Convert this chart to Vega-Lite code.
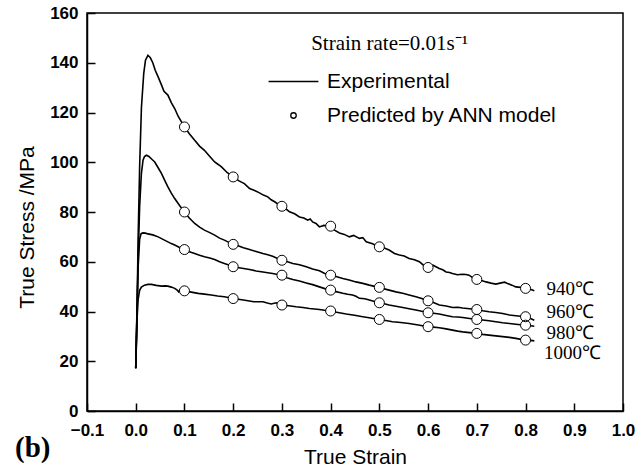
{
  "$schema": "https://vega.github.io/schema/vega-lite/v6.json",
  "width": 536,
  "height": 398,
  "autosize": {"type": "none"},
  "padding": {"left": 87, "top": 13, "right": 21, "bottom": 58},
  "background": "white",
  "title": {"text": "(b)", "orient": "bottom", "anchor": "start", "frame": "group", "font": "Liberation Serif", "fontSize": 29, "fontWeight": "bold", "color": "black", "dx": -72, "offset": -10, "baseline": "alphabetic"},
  "config": {
    "view": {"stroke": "black", "strokeWidth": 1.5},
    "axis": {
      "domainColor": "black", "domainWidth": 1.5, "tickColor": "black", "tickWidth": 1.5, "tickSize": -8,
      "grid": false, "labelFont": "Liberation Sans", "labelFontWeight": "bold", "labelFontSize": 17, "labelColor": "black",
      "titleFont": "Liberation Sans", "titleFontSize": 21, "titleFontWeight": "normal", "titleColor": "black",
      "labelFlush": false, "labelOverlap": false
    }
  },
  "datasets": {
    "exp": [
      {"t":"940","x":0,"y":17.2},{"t":"940","x":0.003,"y":45},{"t":"940","x":0.005,"y":70},{"t":"940","x":0.008,"y":98},{"t":"940","x":0.0117,"y":122},{"t":"940","x":0.0164,"y":135.6},{"t":"940","x":0.02,"y":141},{"t":"940","x":0.025,"y":143},{"t":"940","x":0.03,"y":142},{"t":"940","x":0.035,"y":140},{"t":"940","x":0.04,"y":137},{"t":"940","x":0.046,"y":134.3},{"t":"940","x":0.053,"y":131},{"t":"940","x":0.058,"y":128.5},{"t":"940","x":0.066,"y":127},{"t":"940","x":0.073,"y":124},{"t":"940","x":0.08,"y":121.6},{"t":"940","x":0.087,"y":118.5},{"t":"940","x":0.093,"y":116.5},{"t":"940","x":0.1,"y":114.2},{"t":"940","x":0.11,"y":111.5},{"t":"940","x":0.121,"y":108.8},{"t":"940","x":0.131,"y":106.5},{"t":"940","x":0.141,"y":104.8},{"t":"940","x":0.152,"y":102.3},{"t":"940","x":0.162,"y":100.1},{"t":"940","x":0.17,"y":99},{"t":"940","x":0.176,"y":98.1},{"t":"940","x":0.188,"y":95.8},{"t":"940","x":0.2,"y":94.1},{"t":"940","x":0.212,"y":92.5},{"t":"940","x":0.223,"y":91.4},{"t":"940","x":0.2336,"y":89.4},{"t":"940","x":0.244,"y":88.6},{"t":"940","x":0.254,"y":87.7},{"t":"940","x":0.262,"y":86.8},{"t":"940","x":0.271,"y":86.1},{"t":"940","x":0.278,"y":84.9},{"t":"940","x":0.285,"y":84.1},{"t":"940","x":0.2986,"y":82.3},{"t":"940","x":0.308,"y":81.3},{"t":"940","x":0.3156,"y":80.1},{"t":"940","x":0.326,"y":79.3},{"t":"940","x":0.336,"y":78},{"t":"940","x":0.345,"y":77.6},{"t":"940","x":0.353,"y":76.7},{"t":"940","x":0.358,"y":77.2},{"t":"940","x":0.363,"y":76},{"t":"940","x":0.37,"y":75.4},{"t":"940","x":0.377,"y":74},{"t":"940","x":0.386,"y":74.6},{"t":"940","x":0.3975,"y":74.3},{"t":"940","x":0.408,"y":72.7},{"t":"940","x":0.418,"y":71.6},{"t":"940","x":0.428,"y":71},{"t":"940","x":0.4385,"y":70},{"t":"940","x":0.447,"y":70.6},{"t":"940","x":0.459,"y":69.4},{"t":"940","x":0.466,"y":69.7},{"t":"940","x":0.473,"y":68},{"t":"940","x":0.486,"y":67.2},{"t":"940","x":0.4986,"y":66},{"t":"940","x":0.51,"y":65.5},{"t":"940","x":0.52,"y":64.7},{"t":"940","x":0.531,"y":63.3},{"t":"940","x":0.541,"y":62.7},{"t":"940","x":0.551,"y":62.3},{"t":"940","x":0.561,"y":61.3},{"t":"940","x":0.572,"y":60.8},{"t":"940","x":0.582,"y":60},{"t":"940","x":0.59,"y":58.7},{"t":"940","x":0.599,"y":57.7},{"t":"940","x":0.61,"y":58.6},{"t":"940","x":0.623,"y":57.3},{"t":"940","x":0.63,"y":56.8},{"t":"940","x":0.637,"y":55.9},{"t":"940","x":0.644,"y":55.7},{"t":"940","x":0.65,"y":55.3},{"t":"940","x":0.66,"y":54.8},{"t":"940","x":0.671,"y":55},{"t":"940","x":0.678,"y":54.9},{"t":"940","x":0.684,"y":54.6},{"t":"940","x":0.69,"y":53.8},{"t":"940","x":0.698,"y":52.9},{"t":"940","x":0.708,"y":52.6},{"t":"940","x":0.719,"y":51.9},{"t":"940","x":0.729,"y":51.4},{"t":"940","x":0.739,"y":51},{"t":"940","x":0.75,"y":51.5},{"t":"940","x":0.757,"y":51.8},{"t":"940","x":0.763,"y":51.3},{"t":"940","x":0.772,"y":50.6},{"t":"940","x":0.78,"y":49.9},{"t":"940","x":0.79,"y":49.7},{"t":"940","x":0.799,"y":49.3},{"t":"940","x":0.81,"y":48.9},{"t":"940","x":0.818,"y":48.3},
      {"t":"960","x":0,"y":17.2},{"t":"960","x":0.003,"y":43},{"t":"960","x":0.005,"y":62},{"t":"960","x":0.008,"y":82},{"t":"960","x":0.0116,"y":95.4},{"t":"960","x":0.015,"y":100.8},{"t":"960","x":0.018,"y":102.3},{"t":"960","x":0.022,"y":102.8},{"t":"960","x":0.027,"y":102.3},{"t":"960","x":0.033,"y":101.2},{"t":"960","x":0.039,"y":100.1},{"t":"960","x":0.046,"y":97.8},{"t":"960","x":0.053,"y":95.4},{"t":"960","x":0.06,"y":92.5},{"t":"960","x":0.066,"y":90.1},{"t":"960","x":0.073,"y":87.6},{"t":"960","x":0.08,"y":85.4},{"t":"960","x":0.09,"y":82.6},{"t":"960","x":0.1,"y":80},{"t":"960","x":0.11,"y":77.6},{"t":"960","x":0.121,"y":75.4},{"t":"960","x":0.131,"y":73.9},{"t":"960","x":0.141,"y":72.7},{"t":"960","x":0.152,"y":71.7},{"t":"960","x":0.162,"y":70.7},{"t":"960","x":0.172,"y":69.5},{"t":"960","x":0.182,"y":68.7},{"t":"960","x":0.19,"y":67.9},{"t":"960","x":0.2,"y":67},{"t":"960","x":0.21,"y":66.4},{"t":"960","x":0.221,"y":65.6},{"t":"960","x":0.2336,"y":64.9},{"t":"960","x":0.247,"y":64.1},{"t":"960","x":0.261,"y":63.3},{"t":"960","x":0.271,"y":62.8},{"t":"960","x":0.281,"y":62.2},{"t":"960","x":0.29,"y":61.4},{"t":"960","x":0.2986,"y":60.6},{"t":"960","x":0.31,"y":60.1},{"t":"960","x":0.3224,"y":59.3},{"t":"960","x":0.336,"y":58.8},{"t":"960","x":0.35,"y":58},{"t":"960","x":0.363,"y":57.1},{"t":"960","x":0.377,"y":56.4},{"t":"960","x":0.387,"y":55.4},{"t":"960","x":0.3975,"y":54.6},{"t":"960","x":0.411,"y":54.1},{"t":"960","x":0.425,"y":53.3},{"t":"960","x":0.438,"y":52.7},{"t":"960","x":0.452,"y":51.9},{"t":"960","x":0.466,"y":51.3},{"t":"960","x":0.4795,"y":50.6},{"t":"960","x":0.4986,"y":49.7},{"t":"960","x":0.51,"y":49.1},{"t":"960","x":0.52,"y":48.6},{"t":"960","x":0.534,"y":47.9},{"t":"960","x":0.548,"y":47.3},{"t":"960","x":0.561,"y":46.6},{"t":"960","x":0.575,"y":45.9},{"t":"960","x":0.587,"y":45.2},{"t":"960","x":0.599,"y":44.3},{"t":"960","x":0.611,"y":43.6},{"t":"960","x":0.623,"y":42.6},{"t":"960","x":0.637,"y":42.2},{"t":"960","x":0.65,"y":41.6},{"t":"960","x":0.661,"y":41.7},{"t":"960","x":0.671,"y":41.4},{"t":"960","x":0.685,"y":41.1},{"t":"960","x":0.698,"y":40.8},{"t":"960","x":0.712,"y":40.3},{"t":"960","x":0.725,"y":39.9},{"t":"960","x":0.739,"y":39.6},{"t":"960","x":0.753,"y":39.2},{"t":"960","x":0.767,"y":38.6},{"t":"960","x":0.78,"y":38.3},{"t":"960","x":0.799,"y":37.9},{"t":"960","x":0.81,"y":37.2},{"t":"960","x":0.818,"y":36.5},
      {"t":"980","x":0,"y":17.2},{"t":"980","x":0.003,"y":42},{"t":"980","x":0.005,"y":58},{"t":"980","x":0.008,"y":69},{"t":"980","x":0.011,"y":71.3},{"t":"980","x":0.015,"y":71.6},{"t":"980","x":0.02,"y":71.5},{"t":"980","x":0.025,"y":71.2},{"t":"980","x":0.035,"y":70.8},{"t":"980","x":0.046,"y":70},{"t":"980","x":0.056,"y":69},{"t":"980","x":0.066,"y":68},{"t":"980","x":0.073,"y":67.3},{"t":"980","x":0.08,"y":66.7},{"t":"980","x":0.09,"y":65.7},{"t":"980","x":0.1,"y":64.9},{"t":"980","x":0.11,"y":64},{"t":"980","x":0.121,"y":63.3},{"t":"980","x":0.131,"y":62.6},{"t":"980","x":0.141,"y":62},{"t":"980","x":0.152,"y":61.5},{"t":"980","x":0.162,"y":60.9},{"t":"980","x":0.172,"y":60},{"t":"980","x":0.182,"y":59.3},{"t":"980","x":0.191,"y":58.7},{"t":"980","x":0.2,"y":58},{"t":"980","x":0.215,"y":57.5},{"t":"980","x":0.2336,"y":56.9},{"t":"980","x":0.247,"y":56.3},{"t":"980","x":0.261,"y":55.9},{"t":"980","x":0.271,"y":55.6},{"t":"980","x":0.281,"y":55.3},{"t":"980","x":0.2986,"y":54.6},{"t":"980","x":0.31,"y":53.6},{"t":"980","x":0.3224,"y":52.9},{"t":"980","x":0.336,"y":52.3},{"t":"980","x":0.35,"y":51.5},{"t":"980","x":0.363,"y":50.8},{"t":"980","x":0.377,"y":49.9},{"t":"980","x":0.3975,"y":48.6},{"t":"980","x":0.411,"y":48},{"t":"980","x":0.425,"y":47.3},{"t":"980","x":0.435,"y":46.9},{"t":"980","x":0.445,"y":46.6},{"t":"980","x":0.452,"y":46.1},{"t":"980","x":0.459,"y":45.3},{"t":"980","x":0.47,"y":45.1},{"t":"980","x":0.4795,"y":44.6},{"t":"980","x":0.4986,"y":43.5},{"t":"980","x":0.51,"y":43.1},{"t":"980","x":0.52,"y":42.6},{"t":"980","x":0.534,"y":42.1},{"t":"980","x":0.548,"y":41.6},{"t":"980","x":0.561,"y":41.1},{"t":"980","x":0.575,"y":40.6},{"t":"980","x":0.587,"y":40.1},{"t":"980","x":0.599,"y":39.5},{"t":"980","x":0.611,"y":39.3},{"t":"980","x":0.623,"y":39},{"t":"980","x":0.637,"y":38.4},{"t":"980","x":0.65,"y":37.9},{"t":"980","x":0.661,"y":37.8},{"t":"980","x":0.671,"y":37.6},{"t":"980","x":0.685,"y":37.2},{"t":"980","x":0.698,"y":36.8},{"t":"980","x":0.712,"y":36.6},{"t":"980","x":0.725,"y":36.3},{"t":"980","x":0.739,"y":35.9},{"t":"980","x":0.753,"y":35.5},{"t":"980","x":0.767,"y":35.2},{"t":"980","x":0.78,"y":34.9},{"t":"980","x":0.799,"y":34.5},{"t":"980","x":0.81,"y":34.3},{"t":"980","x":0.818,"y":34.1},
      {"t":"1000","x":0,"y":17.2},{"t":"1000","x":0.003,"y":38},{"t":"1000","x":0.005,"y":45},{"t":"1000","x":0.008,"y":48.5},{"t":"1000","x":0.0116,"y":49.8},{"t":"1000","x":0.018,"y":50.6},{"t":"1000","x":0.025,"y":50.9},{"t":"1000","x":0.032,"y":50.9},{"t":"1000","x":0.042,"y":50.5},{"t":"1000","x":0.053,"y":50.2},{"t":"1000","x":0.06,"y":50.3},{"t":"1000","x":0.066,"y":50.2},{"t":"1000","x":0.073,"y":49.8},{"t":"1000","x":0.08,"y":49.3},{"t":"1000","x":0.085,"y":48.6},{"t":"1000","x":0.088,"y":47.9},{"t":"1000","x":0.091,"y":48.8},{"t":"1000","x":0.1,"y":48.3},{"t":"1000","x":0.114,"y":47.8},{"t":"1000","x":0.128,"y":47.3},{"t":"1000","x":0.141,"y":47},{"t":"1000","x":0.155,"y":46.6},{"t":"1000","x":0.168,"y":46.2},{"t":"1000","x":0.182,"y":45.9},{"t":"1000","x":0.2,"y":45.2},{"t":"1000","x":0.221,"y":44.6},{"t":"1000","x":0.2425,"y":43.9},{"t":"1000","x":0.261,"y":43.9},{"t":"1000","x":0.27,"y":43.4},{"t":"1000","x":0.278,"y":43},{"t":"1000","x":0.288,"y":43.5},{"t":"1000","x":0.2986,"y":42.6},{"t":"1000","x":0.314,"y":42.3},{"t":"1000","x":0.329,"y":41.9},{"t":"1000","x":0.343,"y":41.6},{"t":"1000","x":0.3566,"y":41.2},{"t":"1000","x":0.377,"y":40.8},{"t":"1000","x":0.3975,"y":40.2},{"t":"1000","x":0.415,"y":39.6},{"t":"1000","x":0.432,"y":39},{"t":"1000","x":0.449,"y":38.5},{"t":"1000","x":0.466,"y":37.9},{"t":"1000","x":0.482,"y":37.4},{"t":"1000","x":0.4986,"y":36.8},{"t":"1000","x":0.513,"y":36.4},{"t":"1000","x":0.527,"y":35.9},{"t":"1000","x":0.544,"y":35.6},{"t":"1000","x":0.561,"y":35.2},{"t":"1000","x":0.58,"y":34.6},{"t":"1000","x":0.599,"y":33.9},{"t":"1000","x":0.611,"y":33.7},{"t":"1000","x":0.623,"y":33.5},{"t":"1000","x":0.637,"y":33},{"t":"1000","x":0.65,"y":32.5},{"t":"1000","x":0.661,"y":32.1},{"t":"1000","x":0.671,"y":31.8},{"t":"1000","x":0.685,"y":31.5},{"t":"1000","x":0.698,"y":31.2},{"t":"1000","x":0.712,"y":30.8},{"t":"1000","x":0.725,"y":30.5},{"t":"1000","x":0.739,"y":30.2},{"t":"1000","x":0.753,"y":29.9},{"t":"1000","x":0.767,"y":29.6},{"t":"1000","x":0.78,"y":29.2},{"t":"1000","x":0.799,"y":28.5},{"t":"1000","x":0.81,"y":28.4},{"t":"1000","x":0.818,"y":28.2}
    ],
    "pred": [
      {"t":"940","x":0.1,"y":114.2,"type":"Predicted by ANN model"},{"t":"940","x":0.2,"y":94.1,"type":"Predicted by ANN model"},{"t":"940","x":0.3,"y":82.3,"type":"Predicted by ANN model"},{"t":"940","x":0.4,"y":74.3,"type":"Predicted by ANN model"},{"t":"940","x":0.5,"y":66,"type":"Predicted by ANN model"},{"t":"940","x":0.6,"y":57.7,"type":"Predicted by ANN model"},{"t":"940","x":0.7,"y":52.9,"type":"Predicted by ANN model"},{"t":"940","x":0.8,"y":49.3,"type":"Predicted by ANN model"},
      {"t":"960","x":0.1,"y":80,"type":"Predicted by ANN model"},{"t":"960","x":0.2,"y":67,"type":"Predicted by ANN model"},{"t":"960","x":0.3,"y":60.6,"type":"Predicted by ANN model"},{"t":"960","x":0.4,"y":54.6,"type":"Predicted by ANN model"},{"t":"960","x":0.5,"y":49.7,"type":"Predicted by ANN model"},{"t":"960","x":0.6,"y":44.3,"type":"Predicted by ANN model"},{"t":"960","x":0.7,"y":40.8,"type":"Predicted by ANN model"},{"t":"960","x":0.8,"y":37.9,"type":"Predicted by ANN model"},
      {"t":"980","x":0.1,"y":64.9,"type":"Predicted by ANN model"},{"t":"980","x":0.2,"y":58,"type":"Predicted by ANN model"},{"t":"980","x":0.3,"y":54.6,"type":"Predicted by ANN model"},{"t":"980","x":0.4,"y":48.6,"type":"Predicted by ANN model"},{"t":"980","x":0.5,"y":43.5,"type":"Predicted by ANN model"},{"t":"980","x":0.6,"y":39.5,"type":"Predicted by ANN model"},{"t":"980","x":0.7,"y":36.8,"type":"Predicted by ANN model"},{"t":"980","x":0.8,"y":34.5,"type":"Predicted by ANN model"},
      {"t":"1000","x":0.1,"y":48.3,"type":"Predicted by ANN model"},{"t":"1000","x":0.2,"y":45.2,"type":"Predicted by ANN model"},{"t":"1000","x":0.3,"y":42.6,"type":"Predicted by ANN model"},{"t":"1000","x":0.4,"y":40.2,"type":"Predicted by ANN model"},{"t":"1000","x":0.5,"y":36.8,"type":"Predicted by ANN model"},{"t":"1000","x":0.6,"y":33.9,"type":"Predicted by ANN model"},{"t":"1000","x":0.7,"y":31.2,"type":"Predicted by ANN model"},{"t":"1000","x":0.8,"y":28.5,"type":"Predicted by ANN model"}
    ],
    "temps": [
      {"label":"940℃","x":0.843,"y":49.0},
      {"label":"960℃","x":0.843,"y":40.0},
      {"label":"980℃","x":0.843,"y":31.3},
      {"label":"1000℃","x":0.838,"y":23.3}
    ],
    "note": [
      {"label":"Strain rate=0.01s⁻¹","x":0.36,"y":145.3}
    ]
  },
  "layer": [
    {
      "data": {"name": "exp"},
      "mark": {"type": "line", "color": "black", "strokeWidth": 1.6},
      "encoding": {
        "x": {"field": "x", "type": "quantitative", "scale": {"domain": [-0.1, 1.0], "nice": false, "zero": false},
              "axis": {"title": "True Strain", "values": [-0.1,0,0.1,0.2,0.3,0.4,0.5,0.6,0.7,0.8,0.9,1.0], "format": ".1f", "labelPadding": 32, "labelBaseline": "alphabetic", "titleY": 52, "titleBaseline": "alphabetic"}},
        "y": {"field": "y", "type": "quantitative", "scale": {"domain": [0, 160], "nice": false},
              "axis": {"title": "True Stress /MPa", "values": [0,20,40,60,80,100,120,140,160], "labelPadding": 17, "labelBaseline": "middle", "titleX": -54, "titleY": 214, "titleBaseline": "alphabetic", "titleAlign": "center"}},
        "detail": {"field": "t"}
      }
    },
    {
      "data": {"name": "pred"},
      "mark": {"type": "point", "filled": true, "color": "white", "size": 100, "opacity": 1},
      "encoding": {
        "x": {"field": "x", "type": "quantitative"},
        "y": {"field": "y", "type": "quantitative"}
      }
    },
    {
      "data": {"name": "pred"},
      "mark": {"type": "point", "filled": false, "color": "black", "strokeWidth": 1, "size": 100, "opacity": 1},
      "encoding": {
        "x": {"field": "x", "type": "quantitative"},
        "y": {"field": "y", "type": "quantitative"},
        "shape": {"field": "type", "type": "nominal",
          "scale": {"domain": ["Experimental", "Predicted by ANN model"], "range": ["M-9.1,0H9.1", "circle"]},
          "legend": {"title": null, "orient": "none", "legendX": 196, "legendY": 58, "symbolSize": 30, "symbolStrokeWidth": 1.3, "labelFont": "Liberation Sans", "labelFontSize": 21, "labelColor": "black", "labelOffset": 23, "rowPadding": 12, "labelLimit": 400}}
      }
    },
    {
      "data": {"name": "temps"},
      "mark": {"type": "text", "font": "Liberation Serif", "fontSize": 19, "color": "black", "align": "left", "baseline": "middle"},
      "encoding": {
        "x": {"field": "x", "type": "quantitative"},
        "y": {"field": "y", "type": "quantitative"},
        "text": {"field": "label"}
      }
    },
    {
      "data": {"name": "note"},
      "mark": {"type": "text", "font": "Liberation Serif", "fontSize": 21, "color": "black", "align": "left", "baseline": "alphabetic"},
      "encoding": {
        "x": {"field": "x", "type": "quantitative"},
        "y": {"field": "y", "type": "quantitative"},
        "text": {"field": "label"}
      }
    }
  ]
}
